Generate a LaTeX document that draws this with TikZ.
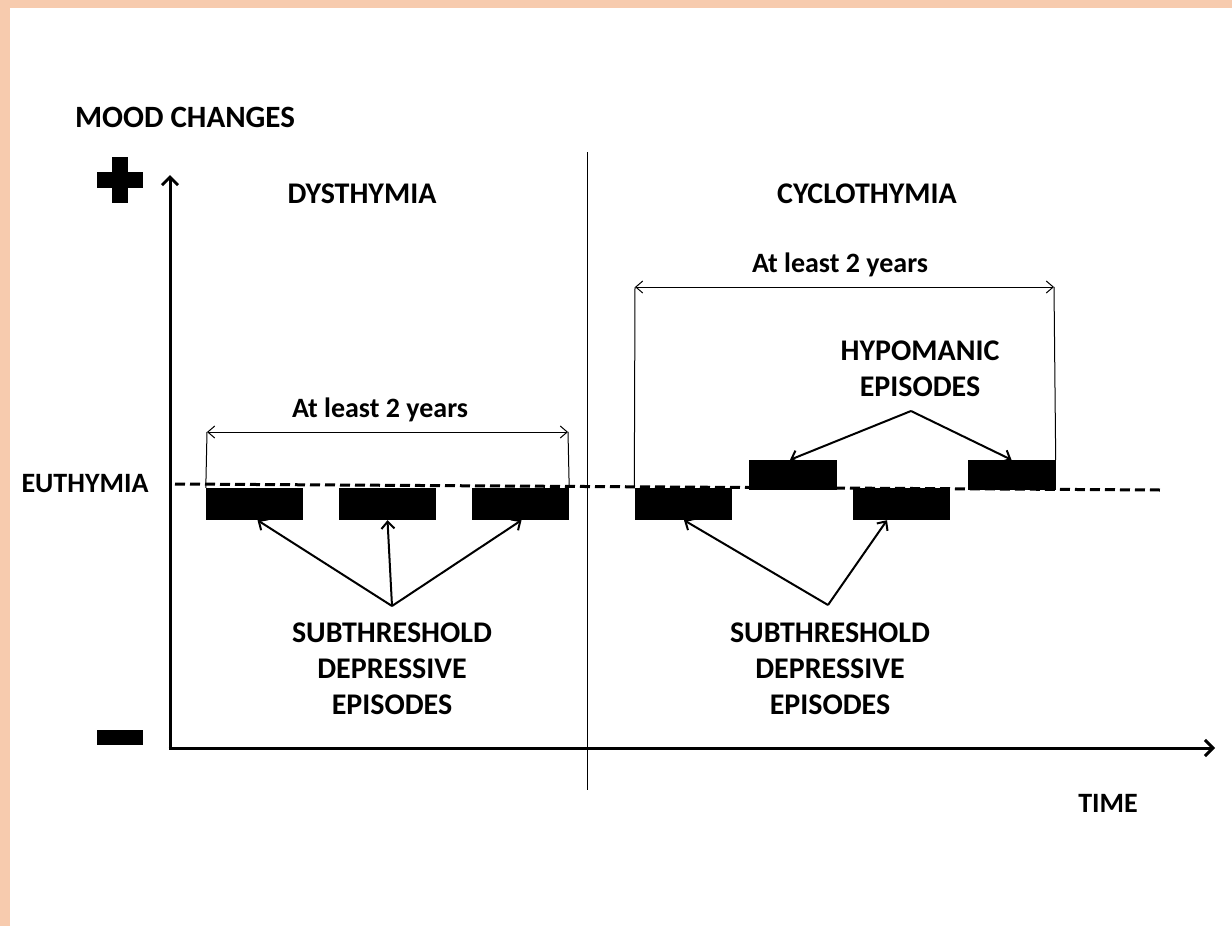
\documentclass[tikz,border=0pt]{standalone}
\usepackage{fontspec}
\setmainfont{Carlito}
\usetikzlibrary{arrows.meta}
\definecolor{frame}{HTML}{F7CBAE}
\begin{document}
\begin{tikzpicture}[
    x=1pt, y=-1pt,
    lbl/.style={font=\bfseries\fontsize{28}{34}\selectfont, inner sep=0pt},
    title/.style={font=\bfseries\fontsize{30}{36}\selectfont, inner sep=0pt},
    big/.style={font=\bfseries\fontsize{30}{36}\selectfont, align=center, inner sep=0pt},
    block/.style={fill=black, minimum width=97pt, minimum height=32pt, inner sep=0pt},
    hblock/.style={block, minimum width=88pt, minimum height=30pt},
    axis/.style={-{Straight Barb[length=8pt, width=16pt]}, line width=3pt},
    ptr/.style={-{Straight Barb[length=7pt, width=13pt]}, line width=2pt},
    span/.style={{Straight Barb[length=7pt, width=12pt]}-{Straight Barb[length=7pt, width=12pt]}, line width=1pt}
]
% Frame and bounding box
\fill[frame] (0,0) rectangle (1232,926);
\fill[white] (10,8) rectangle (1232,926);
\useasboundingbox (0,0) rectangle (1232,926);

% Axes
\coordinate (origin) at (170,748);
\coordinate (ytop) at (170,175);
\coordinate (xend) at (1215,748);
\draw[axis] ([yshift=1.5pt]origin) -- (ytop);
\draw[axis] ([xshift=-1.5pt]origin) -- (xend);
\node[title, font=\bfseries\fontsize{31}{36}\selectfont] (mood) at (185,117) {MOOD CHANGES};
\node[lbl] (time) at (1108,803) {TIME};
\fill (97,172) rectangle (143,188);
\fill (112,157) rectangle (128,203);
\fill (97,730) rectangle (143,745);

% Divider
\draw[line width=1pt] (587,152) -- (587,790);
\node[title] (dys) at (362,194) {DYSTHYMIA};
\node[title] (cyc) at (867,194) {CYCLOTHYMIA};

% Euthymia line
\node[lbl] (eut) at (85,484) {EUTHYMIA};
\draw[line width=3pt, dash pattern=on 10pt off 5pt] (175,484) -- (1160,490);

% Dysthymia episodes
\node[block] (d1) at (254.5,504) {};
\node[block] (d2) at (387.5,504) {};
\node[block] (d3) at (520.5,504) {};

% Cyclothymia episodes
\node[block] (e1) at (683,504) {};
\node[hblock] (h1) at (793,475) {};
\node[block] (e2) at (901,504) {};
\node[hblock] (h2) at (1011.5,475) {};

% Duration brackets
\coordinate (l1) at (207,432);
\coordinate (l2) at (568,432);
\draw[span] (l1) -- (l2);
\draw[line width=1pt] (l1) -- (d1.north west);
\draw[line width=1pt] (l2) -- (d3.north east);
\node[lbl] (yrs1) at (380,410) {At least 2 years};
\coordinate (r1) at (635,287);
\coordinate (r2) at (1054,287);
\draw[span] (r1) -- (r2);
\draw[line width=1pt] (r1) -- (e1.north west);
\draw[line width=1pt] (r2) -- (h2.north east);
\node[lbl] (yrs2) at (840,265) {At least 2 years};

% Episode labels
\node[big] (sub1) at (392,669) {SUBTHRESHOLD\\DEPRESSIVE\\EPISODES};
\node[big] (sub2) at (830,669) {SUBTHRESHOLD\\DEPRESSIVE\\EPISODES};
\node[big] (hypo) at (920,369) {HYPOMANIC\\EPISODES};

% Pointers
\coordinate (s1) at (392,606);
\coordinate (s2) at (828,605);
\coordinate (s3) at (911,411);
\draw[ptr] (s1) -- ([xshift=3pt]d1.south);
\draw[ptr] (s1) -- (d2.south);
\draw[ptr] (s1) -- ([xshift=1pt]d3.south);
\draw[ptr] (s2) -- ([xshift=1pt]e1.south);
\draw[ptr] (s2) -- ([xshift=-14pt]e2.south);
\draw[ptr] (s3) -- ([xshift=-3pt]h1.north);
\draw[ptr] (s3) -- (h2.north);
\end{tikzpicture}
\end{document}
